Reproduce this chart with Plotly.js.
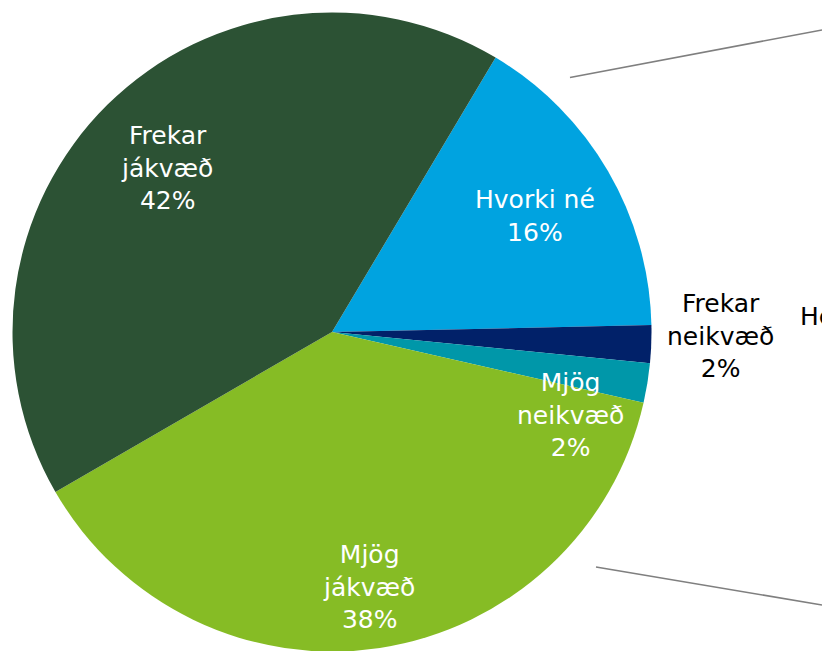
<!DOCTYPE html>
<html>
<head>
<meta charset="utf-8">
<script src="https://cdn.plot.ly/plotly-3.0.1.min.js"></script>
<style>
  html, body { margin: 0; padding: 0; background: #ffffff; overflow: hidden; }
  #chart { width: 822px; height: 660px; }
</style>
</head>
<body>
<div id="chart"></div>
<script>
// Data
var categories = ['Hvorki né', 'Frekar neikvæð', 'Mjög neikvæð', 'Mjög jákvæð', 'Frekar jákvæð'];
var displayLabels = ['Hvorki né', 'Frekar<br>neikvæð', 'Mjög<br>neikvæð', 'Mjög<br>jákvæð', 'Frekar<br>jákvæð'];
var shares = [16.1, 1.9, 2.0, 38.1, 41.9];
var sliceColors = ['#00A3E0', '#012169', '#0097A9', '#86BC25', '#2C5234'];
var labelColors = ['#ffffff', '#000000', '#ffffff', '#ffffff', '#ffffff'];
var hiddenLabel = 'Hef ekki skoðun';

// Layout: label centres in page pixels (from top-left)
var W = 822, H = 660;
var labelPos = [[535, 216.5], [720, 336], [570, 415], [369, 587], [167, 168]];
var FONT = 'DejaVu Sans, Verdana, sans-serif';

var total = shares.reduce(function (a, b) { return a + b; }, 0);
var pctText = shares.map(function (v) { return Math.round(v / total * 100) + '%'; });

var trace = {
  type: 'pie',
  labels: categories,
  values: shares,
  sort: false,
  direction: 'clockwise',
  rotation: 30.8,
  marker: { colors: sliceColors, line: { width: 0 } },
  textinfo: 'none',
  showlegend: false,
  hoverinfo: 'none',
  domain: { x: [0.01521, 0.79258], y: [0.01288, 0.98106] }
};

var annotations = categories.map(function (c, i) {
  return {
    xref: 'paper', yref: 'paper',
    x: labelPos[i][0] / W, y: 1 - labelPos[i][1] / H,
    xanchor: 'center', yanchor: 'middle', showarrow: false,
    text: displayLabels[i] + '<br>' + pctText[i],
    font: { family: FONT, size: 25, color: labelColors[i] }
  };
});
annotations.push({
  xref: 'paper', yref: 'paper', x: 797.5 / W, y: 1 - 316 / H,
  xanchor: 'left', yanchor: 'middle', showarrow: false,
  text: hiddenLabel,
  font: { family: FONT, size: 25, color: '#000000' }
});

var layout = {
  width: W,
  height: H,
  margin: { l: 0, r: 0, t: 0, b: 0 },
  paper_bgcolor: '#ffffff',
  plot_bgcolor: '#ffffff',
  showlegend: false,
  font: { family: FONT, size: 25, color: '#000000' },
  shapes: [
    { type: 'line', xref: 'paper', yref: 'paper',
      x0: 570 / W, y0: 1 - 77.5 / H, x1: 1, y1: 1 - 30 / H,
      line: { color: '#7f7f7f', width: 1.6 } },
    { type: 'line', xref: 'paper', yref: 'paper',
      x0: 596 / W, y0: 1 - 567 / H, x1: 1, y1: 1 - 605 / H,
      line: { color: '#7f7f7f', width: 1.6 } }
  ],
  annotations: annotations
};

Plotly.newPlot('chart', [trace], layout, { displayModeBar: false, staticPlot: true });
</script>
</body>
</html>
